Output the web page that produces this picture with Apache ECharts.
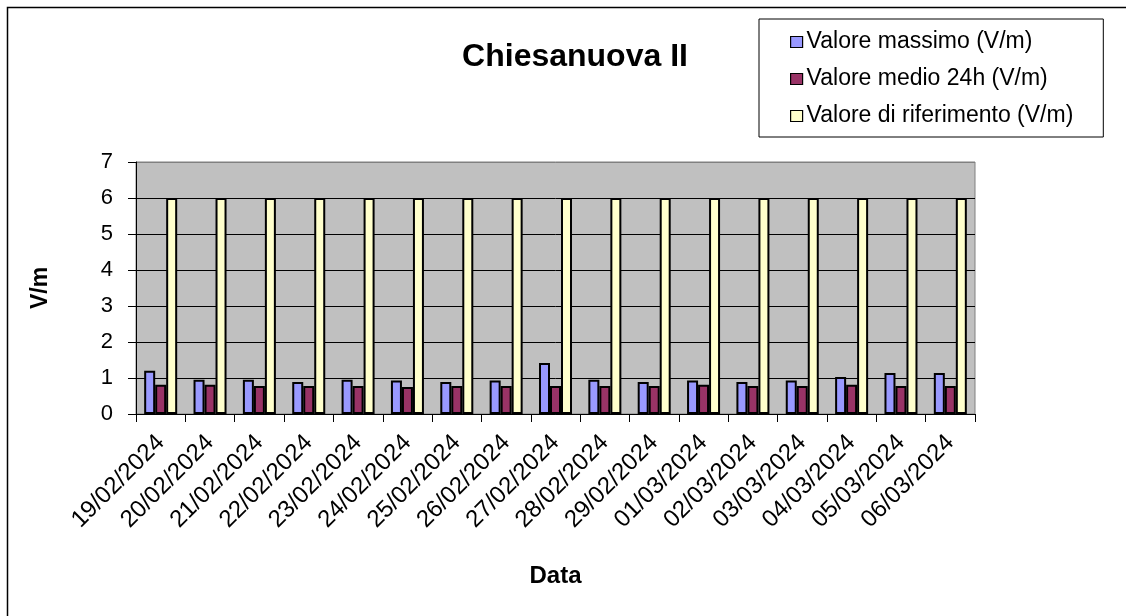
<!DOCTYPE html>
<html>
<head>
<meta charset="utf-8">
<script src="https://cdn.jsdelivr.net/npm/echarts@6/dist/echarts.min.js"></script>
<style>
  html, body { margin: 0; padding: 0; background: #fff; }
  #chart { width: 1126px; height: 616px; }
</style>
</head>
<body>
<div id="chart"></div>
<script>
// date di misura
var dates = [
  "19/02/2024", "20/02/2024", "21/02/2024", "22/02/2024", "23/02/2024",
  "24/02/2024", "25/02/2024", "26/02/2024", "27/02/2024", "28/02/2024",
  "29/02/2024", "01/03/2024", "02/03/2024", "03/03/2024", "04/03/2024",
  "05/03/2024", "06/03/2024"
];
var valoreMassimo = [1.20, 0.95, 0.95, 0.89, 0.95, 0.93, 0.89, 0.93, 1.42, 0.95, 0.89, 0.93, 0.89, 0.93, 1.03, 1.14, 1.14];
var valoreMedio = [0.81, 0.81, 0.78, 0.78, 0.78, 0.75, 0.78, 0.78, 0.78, 0.78, 0.78, 0.81, 0.78, 0.78, 0.81, 0.78, 0.78];
var valoreRiferimento = [6, 6, 6, 6, 6, 6, 6, 6, 6, 6, 6, 6, 6, 6, 6, 6, 6];
var yTicks = [0, 1, 2, 3, 4, 5, 6, 7];

var font = "'Liberation Sans', Arial, sans-serif";
var myChart = echarts.init(document.getElementById("chart"));

function barSeries(name, color, data) {
  return {
    name: name,
    type: "bar",
    barWidth: 11,
    barGap: "0%",
    data: data,
    itemStyle: { color: color, borderColor: "#000", borderWidth: 2 },
    emphasis: { disabled: true }
  };
}

var option = {
  animation: false,
  backgroundColor: "#fff",
  textStyle: { fontFamily: font },
  title: {
    text: "Chiesanuova II",
    left: 570,
    textAlign: "center",
    top: 36,
    textStyle: { fontFamily: font, fontSize: 32, fontWeight: "bold", color: "#000" }
  },
  legend: {
    orient: "vertical",
    left: 759,
    top: 19,
    padding: [11, 30, 9, 31],
    borderColor: "#000",
    borderWidth: 1,
    itemWidth: 12,
    itemHeight: 11,
    itemGap: 13,
    icon: "rect",
    selectedMode: false,
    itemStyle: { borderColor: "#000", borderWidth: 1.2 },
    textStyle: { fontFamily: font, fontSize: 23, color: "#000", lineHeight: 24, padding: [0, 0, 0, -1] },
    data: ["Valore massimo (V/m)", "Valore medio 24h (V/m)", "Valore di riferimento (V/m)"]
  },
  grid: {
    left: 136,
    right: 151,
    top: 162,
    bottom: 202,
    show: true,
    backgroundColor: "#C0C0C0",
    borderColor: "#808080",
    borderWidth: 1
  },
  xAxis: {
    type: "category",
    data: dates,
    name: "Data",
    nameLocation: "middle",
    nameGap: 150,
    nameTextStyle: { fontFamily: font, fontSize: 24, fontWeight: "bold", color: "#000" },
    axisLine: { lineStyle: { color: "#000", width: 1 } },
    axisTick: { show: true, length: 8, lineStyle: { color: "#000" } },
    axisLabel: { rotate: 45, fontSize: 24, color: "#000", margin: 25, fontFamily: font, interval: 0 }
  },
  yAxis: {
    type: "value",
    min: yTicks[0],
    max: yTicks[yTicks.length - 1],
    interval: 1,
    name: "V/m",
    nameLocation: "middle",
    nameRotate: 90,
    nameGap: 84,
    nameTextStyle: { fontFamily: font, fontSize: 23, fontWeight: "bold", color: "#000" },
    axisLine: { show: true, lineStyle: { color: "#000", width: 1 } },
    axisTick: { show: true, length: 8, lineStyle: { color: "#000" } },
    axisLabel: { fontSize: 22, color: "#000", margin: 23, fontFamily: font },
    splitLine: {
      show: true,
      lineStyle: { color: ["#000", "#000", "#000", "#000", "#000", "#000", "#000", "#808080"], width: 1 }
    }
  },
  graphic: [
    {
      type: "rect",
      shape: { x: 7.5, y: 7.5, width: 1300, height: 800 },
      style: { fill: null, stroke: "#000", lineWidth: 1.5 },
      silent: true
    }
  ],
  series: [
    barSeries("Valore massimo (V/m)", "#9999FF", valoreMassimo),
    barSeries("Valore medio 24h (V/m)", "#993366", valoreMedio),
    barSeries("Valore di riferimento (V/m)", "#FFFFCC", valoreRiferimento)
  ]
};

myChart.setOption(option);
</script>
</body>
</html>
